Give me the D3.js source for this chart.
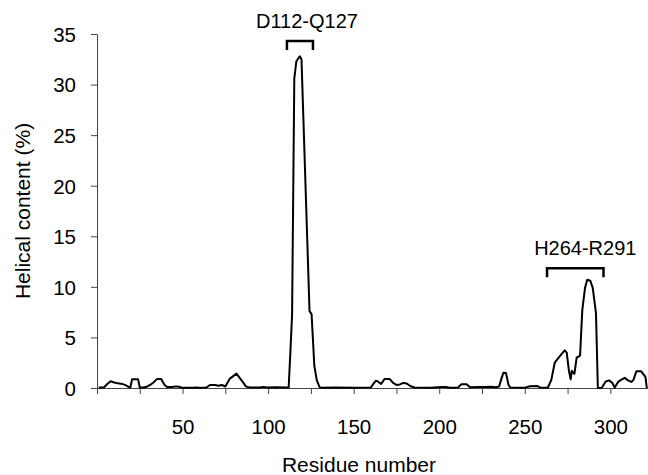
<!DOCTYPE html>
<html>
<head>
<meta charset="utf-8">
<script src="https://cdn.jsdelivr.net/npm/d3@7"></script>
<style>
  body { margin: 0; background: #fff; }
  text { font-family: "Liberation Sans", Arial, sans-serif; fill: #000; }
</style>
</head>
<body>
<svg width="648" height="475"></svg>
<script>
// Residue positions and helical content (%)
const residues = [1, 4, 6, 8, 10, 12, 14, 16, 18, 19.5, 20.5, 24, 25, 27, 29, 31, 33, 35, 37.5, 39.5,
  41, 44, 46, 48, 49.5, 56, 58, 60, 64, 66, 69, 71, 73, 75, 77.5, 81.5, 84.5, 87, 89, 95,
  97, 100, 105, 110, 112, 113, 114, 115.3, 116.5, 118.5, 119.5, 124.2, 125.4, 126, 127, 128.4, 130, 131, 140, 150,
  160, 161.5, 163, 164.5, 166, 168, 171, 173, 175, 177, 179, 181, 183, 185.5, 195, 201, 204, 206, 211, 213,
  216, 218, 222, 226, 230, 233, 235, 236.3, 237.5, 239, 240.5, 241.5, 250, 253, 257.5, 259, 263.5, 265.5, 267.5, 270.5,
  273.3, 274.5, 275.8, 276.8, 277.5, 279, 280.3, 282.3, 283.6, 285.2, 286.5, 288.3, 289.7, 291.6, 292.7, 295, 297.3, 299.3, 301.2, 302.5,
  304.5, 306.5, 308.4, 310.3, 312.3, 313.5, 315.2, 318, 320.5, 321.3];
const helix = [0.05, 0.05, 0.4, 0.66, 0.55, 0.48, 0.43, 0.33, 0.15, 0.05, 0.86, 0.86, 0.05, 0.05, 0.12, 0.3, 0.55, 0.88, 0.88, 0.3,
  0.1, 0.1, 0.16, 0.12, 0.02, 0.02, 0.06, 0.02, 0.05, 0.3, 0.3, 0.22, 0.3, 0.15, 0.9, 1.42, 0.75, 0.16, 0.05, 0.05,
  0.1, 0.05, 0.08, 0.05, 0.05, 3.5, 7.2, 30.6, 32.3, 32.8, 32.5, 7.6, 7.3, 5.4, 2.2, 0.8, 0.1, 0.02, 0.05, 0.03,
  0.05, 0.4, 0.72, 0.6, 0.4, 0.88, 0.9, 0.5, 0.3, 0.35, 0.5, 0.45, 0.2, 0.05, 0.02, 0.1, 0.1, 0.02, 0.05, 0.38,
  0.38, 0.08, 0.1, 0.1, 0.12, 0.08, 0.15, 0.9, 1.5, 1.48, 0.3, 0.05, 0.03, 0.18, 0.2, 0.03, 0.05, 0.8, 2.5, 3.15,
  3.72, 3.5, 1.7, 0.85, 1.7, 1.4, 3.0, 3.2, 7.7, 9.9, 10.7, 10.6, 9.9, 7.4, 0, 0.02, 0.65, 0.75, 0.5, 0.03,
  0.6, 0.82, 1.0, 0.75, 0.6, 0.8, 1.65, 1.65, 1.1, 0];

// Axis ticks
const xTicks = [0, 25, 50, 75, 100, 125, 150, 175, 200, 225, 250, 275, 300];
const xLabels = [50, 100, 150, 200, 250, 300];
const yTicks = [0, 5, 10, 15, 20, 25, 30, 35];

// Annotated helical regions (bracket start/end residue, bracket level in %)
const regionNames = ["D112-Q127", "H264-R291"];
const regionStart = [111, 263];
const regionEnd = [126.2, 296];
const regionLevel = [34.3, 11.85];

const svg = d3.select("svg");
const font = "'Liberation Sans', Arial, sans-serif";

const x = d3.scaleLinear().domain([0, 322]).range([97, 648]);
const y = d3.scaleLinear().domain([0, 35]).range([388, 34]);

// x axis
const xAxis = svg.append("g")
  .attr("transform", `translate(0,${y(0)})`)
  .call(d3.axisBottom(x).tickValues(xTicks).tickSize(6).tickSizeOuter(0)
    .tickFormat(d => xLabels.includes(d) ? d : ""));
xAxis.select(".domain").attr("stroke", "#444");
xAxis.selectAll(".tick line").attr("stroke", "#444");
xAxis.selectAll(".tick text").attr("y", 46).attr("dy", 0)
  .style("font-size", "20.5px").style("font-family", font);

// y axis
const yAxis = svg.append("g")
  .attr("transform", `translate(${x(0)},0)`)
  .call(d3.axisLeft(y).tickValues(yTicks).tickSize(6).tickSizeOuter(0));
yAxis.select(".domain").attr("stroke", "#444");
yAxis.selectAll(".tick line").attr("stroke", "#444");
yAxis.selectAll(".tick text").attr("x", -21).attr("dy", "0.36em")
  .style("font-size", "20.5px").style("font-family", font);

// axis titles
svg.append("text")
  .attr("x", 359).attr("y", 472)
  .attr("text-anchor", "middle")
  .style("font-size", "21px")
  .text("Residue number");

svg.append("text")
  .attr("transform", `translate(30,${(y(0) + y(35)) / 2}) rotate(-90)`)
  .attr("text-anchor", "middle")
  .style("font-size", "21px")
  .text("Helical content (%)");

// helical content line
const line = d3.line()
  .x((d, i) => x(residues[i]))
  .y(d => y(d));

svg.append("path")
  .datum(helix)
  .attr("fill", "none")
  .attr("stroke", "#000")
  .attr("stroke-width", 2)
  .attr("stroke-linejoin", "round")
  .attr("d", line);

// region brackets and labels
regionNames.forEach((name, i) => {
  const x0 = x(regionStart[i]), x1 = x(regionEnd[i]), yb = y(regionLevel[i]);
  svg.append("path")
    .attr("d", `M${x0},${yb + 9}V${yb}H${x1}V${yb + 9}`)
    .attr("fill", "none")
    .attr("stroke", "#000")
    .attr("stroke-width", 2.5);
  svg.append("text")
    .attr("x", (x0 + x1) / 2 + (i === 0 ? 7 : 10))
    .attr("y", yb - 13)
    .attr("text-anchor", "middle")
    .style("font-size", "20px")
    .text(name);
});
</script>
</body>
</html>
